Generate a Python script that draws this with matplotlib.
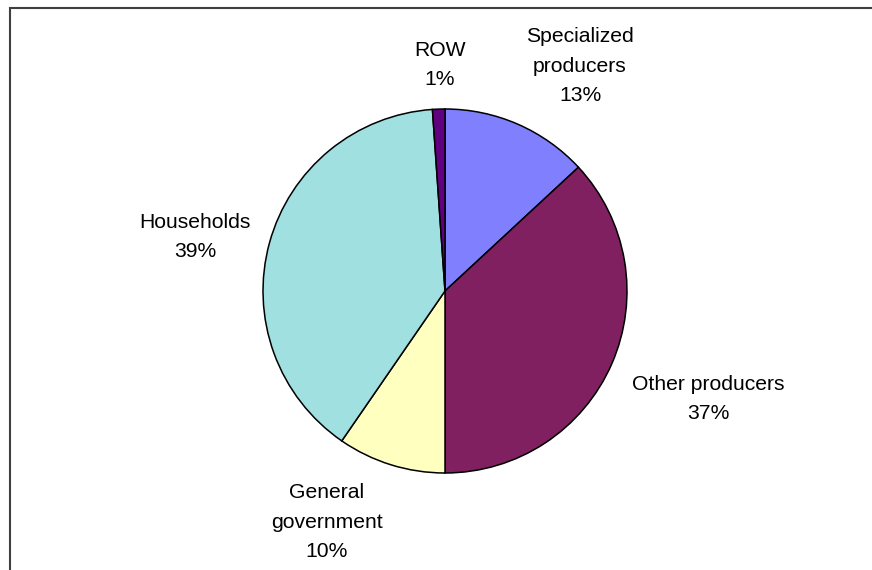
import matplotlib.pyplot as plt

plt.rcParams['font.family'] = ['Liberation Sans', 'DejaVu Sans']

W, H = 872, 570

labels = ['Specialized\nproducers', 'Other producers', 'General\ngovernment', 'Households', 'ROW']
shares = [13.1, 36.9, 9.6, 39.3, 1.1]
pct_text = ['13%', '37%', '10%', '39%', '1%']
colors = ['#8080FF', '#802060', '#FFFFC0', '#A0E0E0', '#600080']

# label centres in pixels from the top-left corner
label_pos = [(580, 66), (708, 399), (327, 522), (195, 237), (440, 65)]

fig = plt.figure(figsize=(W / 100, H / 100), dpi=100)
ax = fig.add_axes([0, 0, 1, 1])

ax.pie(shares, colors=colors, startangle=90, counterclock=False,
       center=(445, H - 291), radius=182, frame=True,
       wedgeprops=dict(edgecolor='black', linewidth=1.1))

for name, pct, (px, py) in zip(labels, pct_text, label_pos):
    ax.text(px, H - py, f'{name}\n{pct}', ha='center', va='center',
            multialignment='center', fontsize=15.2, linespacing=1.68)

# chart area border (cut off at the right and bottom)
ax.plot([10, 10, W], [0, H - 8, H - 8], color='#404040', linewidth=1.5,
        solid_joinstyle='miter')

ax.set_xlim(0, W)
ax.set_ylim(0, H)
ax.set_aspect('auto')
ax.axis('off')

fig.savefig('out.png', dpi=100)
